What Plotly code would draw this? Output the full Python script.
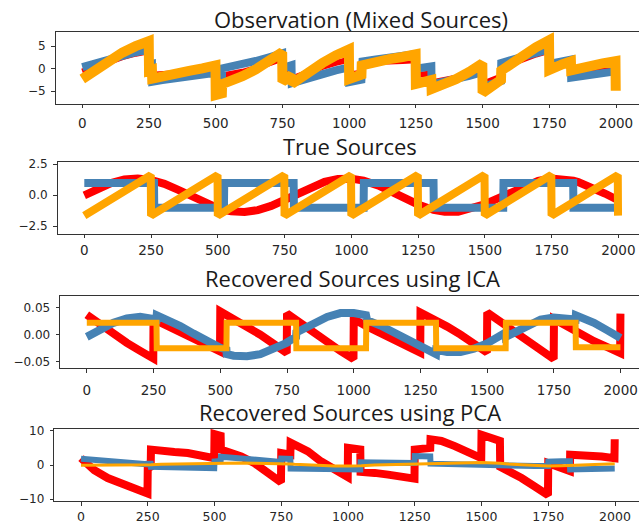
import plotly.graph_objects as go

# ---------------- data ----------------
SAMPLE_X = [0, 50, 100, 150, 200, 249, 250, 261, 262, 300, 350, 400, 450, 499, 500, 523,
            524, 550, 600, 650, 700, 749, 750, 784, 785, 800, 850, 900, 950, 999, 1000, 1046,
            1047, 1050, 1100, 1150, 1200, 1249, 1250, 1308, 1309, 1350, 1400, 1450, 1499, 1500,
            1569, 1570, 1600, 1650, 1700, 1749, 1750, 1800, 1831, 1832, 1850, 1900, 1950, 1998, 1999]

X_TICKS = [0, 250, 500, 750, 1000, 1250, 1500, 1750, 2000]

# Observation (Mixed Sources)
OBS_RED = [-0.64, 0.55, 1.65, 2.60, 3.35, 3.87, 0.60, 0.69, -1.30, -1.06, -0.88, -0.75, -0.61, -0.39, -3.67, -3.52,
           -1.50, -1.28, -0.67, 0.13, 1.13, 2.24, -1.02, -0.20, -2.18, -1.82, -0.65, 0.41, 1.31, 1.98, -1.29, -0.85,
           1.16, 1.18, 1.47, 1.64, 1.75, 1.91, -1.37, -1.05, -3.04, -2.65, -1.99, -1.12, -0.09, -3.35, -1.73,
           0.29, 0.99, 2.15, 3.17, 3.99, 0.72, 1.34, 1.61, -0.38, -0.25, 0.00, 0.14, 0.25, -3.03]
OBS_BLUE = [0.36, 1.29, 2.16, 2.97, 3.67, 4.25, 0.98, 1.10, -2.89, -2.52, -2.11, -1.71, -1.31, -0.88, -4.16, -3.93,
            0.09, 0.37, 1.01, 1.73, 2.56, 3.44, 0.17, 0.81, -3.18, -2.90, -1.99, -1.13, -0.35, 0.31, -2.96, -2.44,
            1.57, 1.60, 2.08, 2.49, 2.87, 3.28, 0.00, 0.54, -3.45, -2.99, -2.33, -1.57, -0.73, -3.99, -2.73,
            1.29, 1.84, 2.75, 3.59, 4.32, 1.05, 1.69, 2.02, -1.97, -1.79, -1.33, -0.93, -0.56, -3.84]
OBS_ORANGE = [-2.28, -0.17, 1.81, 3.57, 5.02, 6.12, -0.42, -0.21, -2.19, -1.58, -0.99, -0.46, 0.08, 0.73, -5.83, -5.45,
              -3.41, -2.91, -1.67, -0.14, 1.69, 3.68, -2.85, -1.40, -3.36, -2.72, -0.64, 1.28, 2.96, 4.29, -2.25, -1.29,
              0.73, 0.78, 1.55, 2.13, 2.62, 3.19, -3.37, -2.51, -4.49, -3.64, -2.32, -0.69, 1.19, -5.34, -2.46,
              -0.42, 0.83, 2.90, 4.76, 6.31, -0.24, 1.03, 1.63, -0.35, -0.04, 0.67, 1.21, 1.69, -4.87]
OBS_YTICKS = [-5, 0, 5]

# True Sources
TRUE_RED = [0.00, 0.53, 0.98, 1.27, 1.36, 1.24, 1.24, 1.18, 1.18, 0.92, 0.45, -0.08, -0.60, -1.02, -1.03, -1.18,
            -1.18, -1.30, -1.35, -1.20, -0.86, -0.39, -0.38, -0.01, 0.00, 0.16, 0.67, 1.08, 1.32, 1.35, 1.34, 1.18,
            1.18, 1.16, 0.79, 0.30, -0.24, -0.73, -0.74, -1.18, -1.18, -1.33, -1.33, -1.11, -0.73, -0.72, -0.01,
            0.00, 0.31, 0.81, 1.17, 1.35, 1.35, 1.31, 1.18, 1.17, 1.07, 0.66, 0.14, -0.38, -0.39]
TRUE_BLUE = [1.0, 1.0, 1.0, 1.0, 1.0, 1.0, 1.0, 1.0, -1.0, -1.0, -1.0, -1.0, -1.0, -1.0, -1.0, -1.0,
             1.0, 1.0, 1.0, 1.0, 1.0, 1.0, 1.0, 1.0, -1.0, -1.0, -1.0, -1.0, -1.0, -1.0, -1.0, -1.0,
             1.0, 1.0, 1.0, 1.0, 1.0, 1.0, 1.0, 1.0, -1.0, -1.0, -1.0, -1.0, -1.0, -1.0, -1.0,
             1.0, 1.0, 1.0, 1.0, 1.0, 1.0, 1.0, 1.0, -1.0, -1.0, -1.0, -1.0, -1.0, -1.0]
TRUE_ORANGE = [-1.64, -0.98, -0.33, 0.33, 0.99, 1.63, -1.64, -1.49, -1.48, -0.98, -0.33, 0.33, 0.99, 1.63, -1.64, -1.34,
               -1.32, -0.98, -0.32, 0.33, 0.99, 1.63, -1.64, -1.19, -1.18, -0.98, -0.32, 0.33, 0.99, 1.63, -1.63, -1.03,
               -1.02, -0.98, -0.32, 0.34, 0.99, 1.64, -1.63, -0.87, -0.86, -0.32, 0.34, 0.99, 1.64, -1.63, -0.72,
               -0.71, -0.32, 0.34, 1.00, 1.64, -1.63, -0.97, -0.57, -0.55, -0.32, 0.34, 1.00, 1.63, -1.64]
TRUE_YTICKS = [-2.5, 0.0, 2.5]

# Recovered Sources using ICA
ICA_RED = [0.037, 0.019, 0.002, -0.015, -0.030, -0.044, 0.030, 0.026, 0.026, 0.017, 0.005, -0.007, -0.019, -0.031, 0.043, 0.037,
           0.037, 0.030, 0.015, 0.000, -0.017, -0.034, 0.039, 0.027, 0.027, 0.021, 0.003, -0.014, -0.030, -0.045, 0.029, 0.016,
           0.016, 0.015, 0.002, -0.009, -0.021, -0.033, 0.041, 0.027, 0.026, 0.015, 0.000, -0.016, -0.033, 0.041, 0.016,
           0.016, 0.005, -0.013, -0.030, -0.045, 0.029, 0.014, 0.006, 0.005, 0.001, -0.012, -0.023, -0.034, 0.039]
ICA_BLUE = [-0.004, 0.010, 0.022, 0.030, 0.033, 0.029, 0.029, 0.028, 0.036, 0.029, 0.016, 0.002, -0.012, -0.024, -0.024, -0.028,
            -0.036, -0.039, -0.040, -0.036, -0.027, -0.015, -0.014, -0.004, 0.004, 0.008, 0.022, 0.033, 0.040, 0.040, 0.040, 0.036,
            0.028, 0.027, 0.017, 0.004, -0.010, -0.024, -0.024, -0.036, -0.028, -0.032, -0.032, -0.026, -0.016, -0.016, 0.004,
            -0.004, 0.004, 0.018, 0.028, 0.032, 0.032, 0.031, 0.028, 0.036, 0.033, 0.022, 0.008, -0.006, -0.006]
ICA_ORANGE = [0.022, 0.022, 0.022, 0.022, 0.022, 0.022, 0.022, 0.022, -0.025, -0.025, -0.025, -0.025, -0.025, -0.025, -0.025, -0.025,
              0.022, 0.022, 0.022, 0.022, 0.022, 0.022, 0.022, 0.022, -0.025, -0.025, -0.025, -0.025, -0.025, -0.025, -0.025, -0.025,
              0.022, 0.022, 0.022, 0.022, 0.022, 0.022, 0.022, 0.022, -0.025, -0.025, -0.025, -0.025, -0.025, -0.025, -0.025,
              0.022, 0.022, 0.022, 0.022, 0.022, 0.022, 0.022, 0.022, -0.023, -0.023, -0.023, -0.023, -0.023, -0.023]
ICA_YTICKS = [-0.05, 0.0, 0.05]

# Recovered Sources using PCA
PCA_RED = [2.0, -1.5, -3.8, -5.5, -7.0, -8.3, -1.0, -0.5, 4.5, 4.0, 3.8, 3.5, 3.0, 2.0, 9.0, 8.5,
           4.5, 3.8, 2.5, 0.5, -2.0, -5.0, 3.5, 3.0, 6.5, 6.0, 4.0, 1.0, -1.5, -3.5, 5.0, 4.5,
           -2.0, -2.0, -2.3, -2.8, -3.2, -4.0, 4.5, 5.0, 7.5, 7.0, 5.5, 4.0, 2.0, 8.8, 7.0,
           -0.5, -1.5, -3.8, -6.3, -8.8, 0.5, -1.0, -1.8, 3.0, 3.0, 2.8, 2.5, 2.0, 7.5]
PCA_BLUE = [1.8, 1.4, 1.0, 0.7, 0.4, 0.2, 0.4, 0.4, -0.5, -0.6, -0.7, -0.7, -0.8, -0.9, 1.0, 1.2,
            2.4, 2.2, 1.9, 1.5, 1.2, 0.9, 1.9, 1.8, -1.0, -1.0, -1.1, -1.2, -1.3, -1.4, -1.2, -1.3,
            0.8, 0.8, 0.7, 0.7, 0.6, 0.6, 2.6, 2.5, 0.4, 0.3, 0.2, 0.0, -0.2, 0.0, -0.1,
            0.0, -0.1, -0.2, -0.3, -0.3, 1.0, 1.1, 1.1, -1.3, -1.3, -1.3, -1.3, -1.2, -1.0]
PCA_ORANGE = [-0.1, -0.1, 0.0, 0.0, 0.1, 0.1, 0.1, 0.1, 0.1, 0.2, 0.3, 0.4, 0.5, 0.6, 0.6, 0.6,
              0.6, 0.6, 0.6, 0.5, 0.5, 0.4, 0.4, 0.3, 0.3, 0.2, 0.0, -0.2, -0.3, -0.3, -0.3, -0.2,
              -0.2, -0.2, 0.0, 0.1, 0.3, 0.4, 0.4, 0.5, 0.5, 0.6, 0.6, 0.7, 0.7, 0.7, 0.5,
              0.5, 0.3, 0.1, -0.1, -0.3, -0.3, -0.2, -0.1, -0.1, 0.0, 0.2, 0.3, 0.4, 0.4]
PCA_YTICKS = [-10, 0, 10]

TITLES = ["Observation (Mixed Sources)", "True Sources",
          "Recovered Sources using ICA", "Recovered Sources using PCA"]

# ---------------- layout / style ----------------
W, H = 639, 523
COLORS = ["#ff0000", "#4682b4", "#ffa500"]
AX_COLOR = "#333333"
TICK_FONT = dict(family="DejaVu Sans", size=12, color="#262626")
TITLE_FONT = dict(family="Open Sans", size=22, color="#1a1a1a")

panels = [
    dict(series=[OBS_RED, OBS_BLUE, OBS_ORANGE], widths=[6, 8, 10], p0=82.3, p2000=616.0,
         top=32.3, bottom=103.7, yr=[-7.76, 8.1], yticks=OBS_YTICKS, fmt="d",
         tx=360.5, ty=19, xstand=4, xfs=13.5),
    dict(series=[TRUE_RED, TRUE_BLUE, TRUE_ORANGE], widths=[8, 8, 8], p0=84.3, p2000=618.3,
         top=162.3, bottom=233.7, yr=[-3.1, 2.66], yticks=TRUE_YTICKS, fmt=".1f",
         tx=349.5, ty=146, xstand=1, xfs=13.5),
    dict(series=[ICA_RED, ICA_BLUE, ICA_ORANGE], widths=[8, 8, 6], p0=86.8, p2000=620.7,
         top=296.3, bottom=368.3, yr=[-0.0622, 0.0711], yticks=ICA_YTICKS, fmt=".2f",
         tx=352, ty=278, xstand=6, xfs=13.5),
    dict(series=[PCA_RED, PCA_BLUE, PCA_ORANGE], widths=[8, 6, 3], p0=81.0, p2000=615.0,
         top=429.0, bottom=501.0, yr=[-10.5, 10.5], yticks=PCA_YTICKS, fmt="d",
         tx=350, ty=412, xstand=0, xfs=12.5),
]

fig = go.Figure()
annotations = []
layout_axes = {}
for i, p in enumerate(panels):
    n = "" if i == 0 else str(i + 1)
    scale = (p["p2000"] - p["p0"]) / 2000.0
    left_px = p["p0"] - 100 * scale
    xmax = (W - p["p0"]) / scale
    for ys, col, w in zip(p["series"], COLORS, p["widths"]):
        fig.add_trace(go.Scatter(x=SAMPLE_X, y=ys, mode="lines",
                                 line=dict(color=col, width=w),
                                 xaxis="x" + n, yaxis="y" + n,
                                 showlegend=False, hoverinfo="skip"))
    layout_axes["xaxis" + n] = dict(
        domain=[left_px / W, 1.0], range=[-100, xmax], anchor="y" + n, automargin=False,
        tickvals=X_TICKS, ticks="outside", ticklen=3.5, tickwidth=1, tickcolor=AX_COLOR,
        showline=True, mirror=True, linecolor=AX_COLOR, linewidth=1,
        showgrid=False, zeroline=False,
        tickfont=dict(family="DejaVu Sans", size=p["xfs"], color="#262626"),
        ticklabelstandoff=p["xstand"])
    layout_axes["yaxis" + n] = dict(
        domain=[1 - p["bottom"] / H, 1 - p["top"] / H], range=p["yr"], anchor="x" + n,
        automargin=False,
        tickvals=p["yticks"], tickformat=p["fmt"], ticks="outside", ticklen=3.5,
        tickwidth=1, tickcolor=AX_COLOR, showline=True, mirror=False,
        linecolor=AX_COLOR, linewidth=1, showgrid=False, zeroline=False,
        tickfont=TICK_FONT, ticklabelstandoff=3)
    annotations.append(dict(text=TITLES[i], x=p["tx"] / W, y=1 - p["ty"] / H,
                            xref="paper", yref="paper", xanchor="center", yanchor="middle",
                            showarrow=False, font=TITLE_FONT))

fig.update_layout(width=W, height=H, margin=dict(l=0, r=0, t=0, b=0, autoexpand=False),
                  paper_bgcolor="white", plot_bgcolor="white",
                  annotations=annotations, **layout_axes)

fig.write_html("out.html", config={"displayModeBar": False, "staticPlot": True},
               post_script="document.body.style.margin='0';document.body.style.overflow='hidden';")
